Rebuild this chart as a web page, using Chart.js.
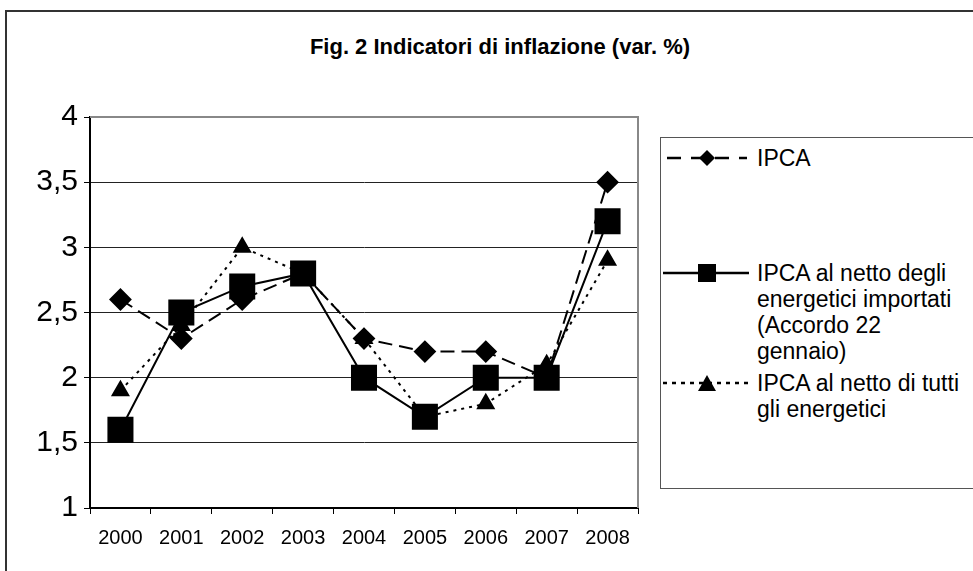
<!DOCTYPE html>
<html>
<head>
<meta charset="utf-8">
<script src="https://cdn.jsdelivr.net/npm/chart.js@4"></script>
<style>
  body { margin: 0; background: #fff; font-family: 'Liberation Sans', Arial, sans-serif; }
  #wrap { position: relative; width: 973px; height: 571px; overflow: hidden; }
  #frame { position: absolute; left: 5px; top: 10px; width: 1000px; height: 600px;
           border-left: 2px solid #333; border-top: 2px solid #333; }
  #title { position: absolute; left: 300px; width: 400px; top: 34px; text-align: center;
           font-weight: bold; font-size: 22px; line-height: 25px; color: #000; white-space: nowrap; }
  #chartBox { position: absolute; left: 0; top: 0; width: 660px; height: 571px; }
  #legend { position: absolute; left: 660px; top: 137px; width: 340px; height: 350px;
            border: 1px solid #555; }
  .item { position: absolute; left: 0; }
  .item svg { position: absolute; left: 2px; }
  .item div { position: absolute; left: 96px; font-size: 23px; line-height: 26px; white-space: nowrap; }
</style>
</head>
<body>
<div id="wrap">
  <div id="frame"></div>
  <div id="title">Fig. 2 Indicatori di inflazione (var. %)</div>
  <div id="chartBox"><canvas id="myChart" width="660" height="571"></canvas></div>
  <div id="legend"></div>
</div>
<script>
'use strict';
const years = ['2000', '2001', '2002', '2003', '2004', '2005', '2006', '2007', '2008'];
const ipca = [2.6, 2.3, 2.6, 2.8, 2.3, 2.2, 2.2, 2.0, 3.5];
const ipcaNoImported = [1.6, 2.5, 2.7, 2.8, 2.0, 1.7, 2.0, 2.0, 3.2];
const ipcaNoEnergy = [1.9, 2.4, 3.0, 2.8, 2.3, 1.7, 1.8, 2.1, 2.9];
const seriesNames = [
  'IPCA',
  'IPCA al netto degli energetici importati (Accordo 22 gennaio)',
  'IPCA al netto di tutti gli energetici'
];
const legendLines = [
  ['IPCA'],
  ['IPCA al netto degli', 'energetici importati', '(Accordo 22', 'gennaio)'],
  ['IPCA al netto di tutti', 'gli energetici']
];

// gray border on top and right of plot area
const plotBorder = {
  id: 'plotBorder',
  afterDraw(chart) {
    const a = chart.chartArea;
    const ctx = chart.ctx;
    ctx.save();
    ctx.strokeStyle = '#888';
    ctx.lineWidth = 2;
    ctx.beginPath();
    ctx.moveTo(a.left, a.top);
    ctx.lineTo(a.right, a.top);
    ctx.lineTo(a.right, a.bottom);
    ctx.stroke();
    ctx.restore();
  }
};

let ctx = document.getElementById('myChart').getContext('2d');
let myChart = new Chart(ctx, {
  type: 'line',
  data: {
    labels: years,
    datasets: [{
      label: seriesNames[0],
      data: ipca,
      borderColor: '#000',
      backgroundColor: '#000',
      borderWidth: 2,
      borderDash: [14, 7],
      pointStyle: 'rectRot',
      pointRadius: 10,
      order: 2
    }, {
      label: seriesNames[1],
      data: ipcaNoImported,
      borderColor: '#000',
      backgroundColor: '#000',
      borderWidth: 2,
      pointStyle: 'rect',
      pointRadius: 17,
      order: 0
    }, {
      label: seriesNames[2],
      data: ipcaNoEnergy,
      borderColor: '#000',
      backgroundColor: '#000',
      borderWidth: 2,
      borderDash: [3, 5],
      pointStyle: 'triangle',
      pointRadius: 9,
      order: 1
    }]
  },
  options: {
    responsive: false,
    animation: false,
    layout: { padding: { top: 117, right: 22, left: 0, bottom: 0 } },
    plugins: { legend: { display: false }, tooltip: { enabled: false } },
    elements: { line: { tension: 0 }, point: { borderWidth: 0, hoverRadius: 10 } },
    scales: {
      x: {
        offset: true,
        afterFit(scale) { scale.height = 63; },
        grid: { drawOnChartArea: false, offset: true, tickLength: 6, color: '#000', lineWidth: 1 },
        border: { color: '#000', width: 2 },
        ticks: { color: '#000', padding: 12, maxRotation: 0, font: { family: 'Liberation Sans', size: 20 } }
      },
      y: {
        min: 1,
        max: 4,
        afterFit(scale) { scale.width = 90; },
        grid: {
          color: c => (c.tick && c.tick.value === 4 ? 'rgba(0,0,0,0)' : '#222'),
          tickColor: '#000',
          tickLength: 6,
          lineWidth: 1
        },
        border: { color: '#000', width: 2 },
        ticks: {
          stepSize: 0.5,
          color: '#000',
          padding: 6,
          font: { family: 'Liberation Sans', size: 30 },
          callback: v => String(v).replace('.', ',')
        }
      }
    }
  },
  plugins: [plotBorder]
});

// legend with line samples
const legend = document.getElementById('legend');
const samples = [
  '<line x1="4" y1="13" x2="84" y2="13" stroke="#000" stroke-width="2.5" stroke-dasharray="14,10"/>' +
    '<polygon points="44,5 52,13 44,21 36,13" fill="#000"/>',
  '<line x1="0" y1="13" x2="86" y2="13" stroke="#000" stroke-width="2.5"/>' +
    '<rect x="35" y="4" width="18" height="18" fill="#000"/>',
  '<line x1="0" y1="13" x2="86" y2="13" stroke="#000" stroke-width="2.5" stroke-dasharray="4,5"/>' +
    '<polygon points="44,5 53,21 35,21" fill="#000"/>'
];
// top of each entry inside the legend box
const itemTops = [7, 122, 232];
for (let i = 0; i < legendLines.length; i++) {
  let item = document.createElement('div');
  item.className = 'item';
  item.style.top = itemTops[i] + 'px';
  item.innerHTML = '<svg width="90" height="26">' + samples[i] + '</svg>' +
    '<div>' + legendLines[i].join('<br>') + '</div>';
  legend.appendChild(item);
}
</script>
</body>
</html>
